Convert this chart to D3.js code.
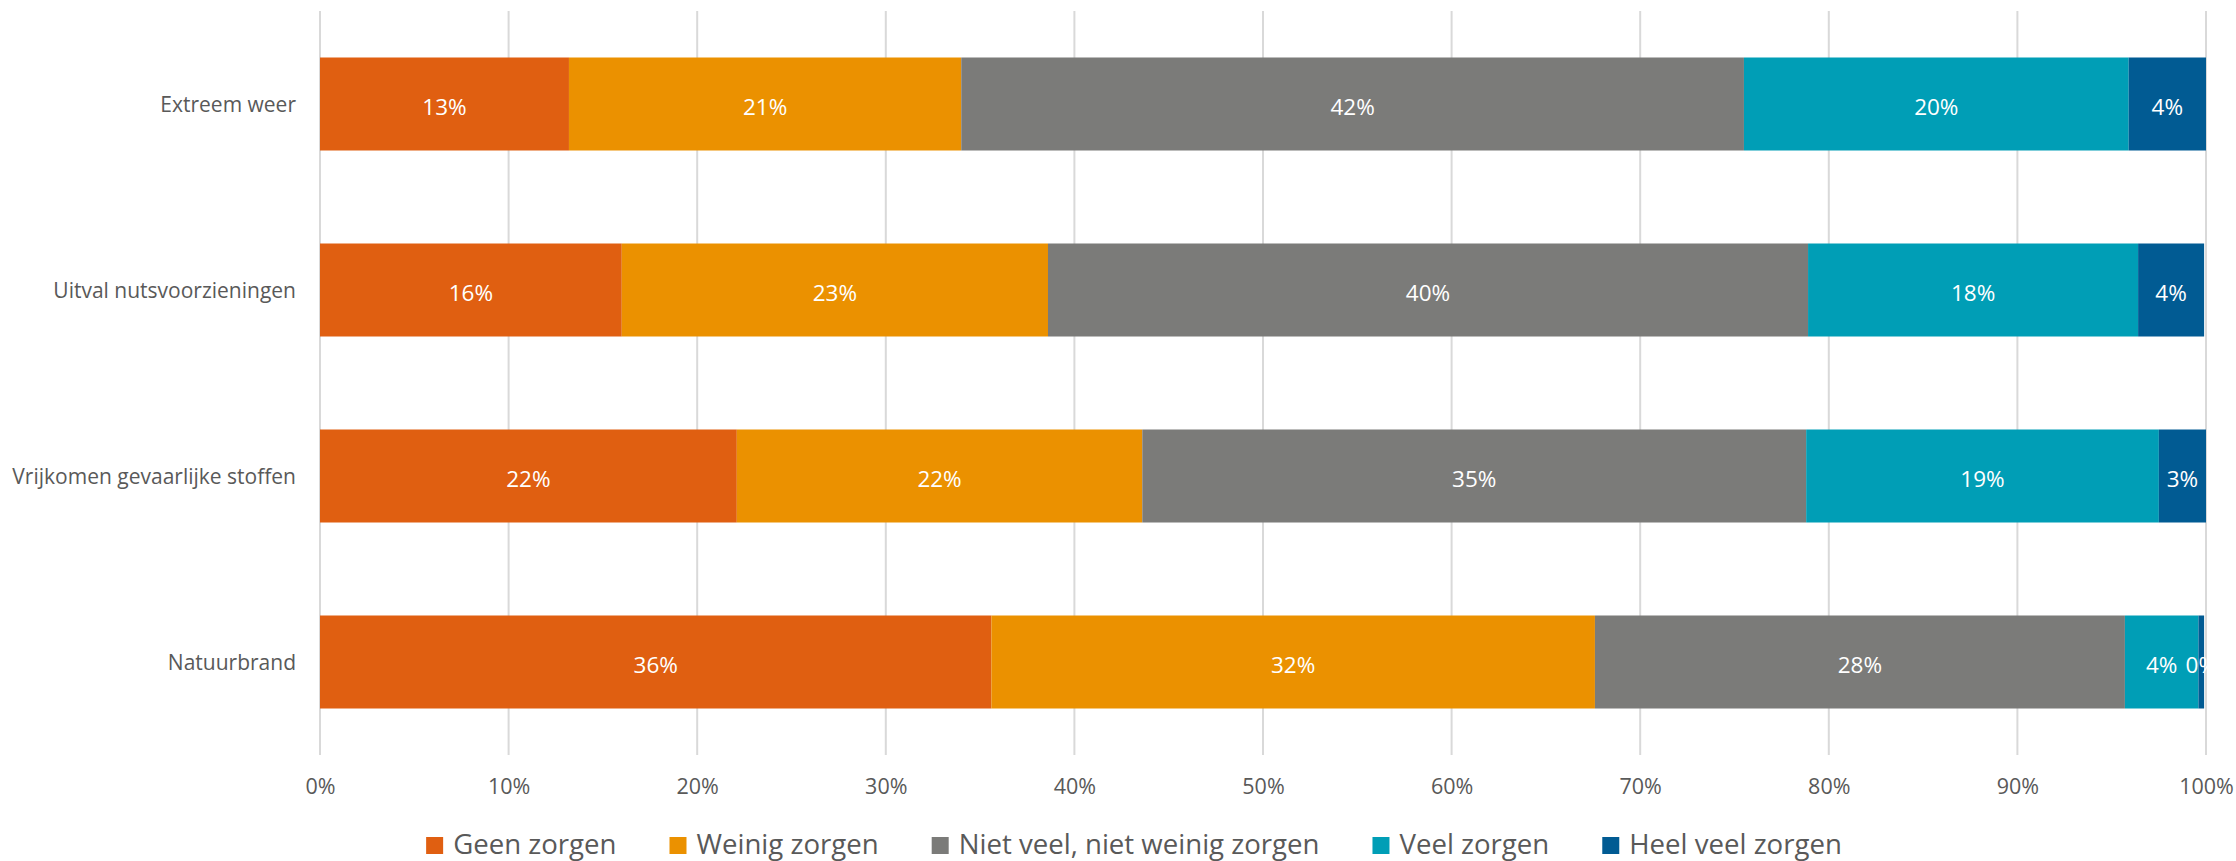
<!DOCTYPE html>
<html>
<head>
<meta charset="utf-8">
<script src="https://cdn.jsdelivr.net/npm/d3@7"></script>
<style>
  html, body { margin: 0; padding: 0; background: #ffffff; }
  svg { display: block; }
  text { font-family: "Open Sans", "Noto Sans", sans-serif; }
</style>
</head>
<body>
<svg id="chart" width="2236" height="861"></svg>
<script>
// ---- data ----
const categories = ["Extreem weer", "Uitval nutsvoorzieningen", "Vrijkomen gevaarlijke stoffen", "Natuurbrand"];
const seriesNames = ["Geen zorgen", "Weinig zorgen", "Niet veel, niet weinig zorgen", "Veel zorgen", "Heel veel zorgen"];
const geenZorgen      = [13.2, 16.0, 22.1, 35.6];
const weinigZorgen    = [20.8, 22.6, 21.5, 32.0];
const nietVeelZorgen  = [41.5, 40.3, 35.2, 28.1];
const veelZorgen      = [20.4, 17.5, 18.7, 3.9];
const heelVeelZorgen  = [4.1, 3.5, 2.5, 0.3];
const xTicks = [0, 10, 20, 30, 40, 50, 60, 70, 80, 90, 100];
const seriesColors = ["#E05F11", "#EB9100", "#7B7B79", "#009EB6", "#015B93"];

const seriesValues = [geenZorgen, weinigZorgen, nietVeelZorgen, veelZorgen, heelVeelZorgen];

// ---- layout ----
const svg = d3.select("#chart");
const plot = { left: 320, right: 2206, top: 11, bottom: 755 };

const x = d3.scaleLinear().domain([0, 100]).range([plot.left, plot.right]);
const y = d3.scaleBand().domain(categories).range([plot.top, plot.bottom])
  .paddingInner(0.5).paddingOuter(0.25);

const textColor = "#595959";

// gridlines
svg.append("g").selectAll("line").data(xTicks).join("line")
  .attr("x1", d => x(d)).attr("x2", d => x(d))
  .attr("y1", plot.top).attr("y2", plot.bottom)
  .attr("stroke", "#D9D9D9").attr("stroke-width", 2);

// x axis labels
const xAxis = d3.axisBottom(x).tickValues(xTicks).tickFormat(d => d + "%").tickSize(0).tickPadding(0);
const gx = svg.append("g").attr("transform", `translate(0,${plot.bottom})`).call(xAxis);
gx.select(".domain").remove();
gx.selectAll("text")
  .attr("y", 39).attr("dy", 0)
  .attr("fill", textColor).style("font-size", "21.5px").style("font-family", "'Open Sans', sans-serif");

// y axis labels
const yAxis = d3.axisLeft(y).tickSize(0).tickPadding(24);
const gy = svg.append("g").attr("transform", `translate(${plot.left},0)`).call(yAxis);
gy.select(".domain").remove();
gy.selectAll("text")
  .attr("dy", "0.36em")
  .attr("fill", textColor).style("font-size", "21px").style("font-family", "'Open Sans', sans-serif");

// stacked data
const rows = categories.map((c, i) => {
  const r = { category: c };
  seriesNames.forEach((s, k) => r[s] = seriesValues[k][i]);
  return r;
});
const stack = d3.stack().keys(seriesNames)(rows);

const layers = svg.append("g").selectAll("g").data(stack).join("g")
  .attr("fill", (d, i) => seriesColors[i]);

layers.selectAll("rect").data(d => d).join("rect")
  .attr("x", d => x(d[0]))
  .attr("width", d => x(d[1]) - x(d[0]))
  .attr("y", d => y(d.data.category))
  .attr("height", y.bandwidth());

// data labels
const labels = svg.append("g").selectAll("g").data(stack).join("g");
labels.selectAll("text").data(d => d.map(v => ({ v, key: d.key }))).join("text")
  .attr("x", d => (x(d.v[0]) + x(d.v[1])) / 2)
  .attr("y", d => y(d.v.data.category) + y.bandwidth() / 2 + 11)
  .attr("text-anchor", "middle")
  .attr("fill", "#ffffff")
  .style("font-size", "22.5px")
  .text(d => Math.round(d.v[1] - d.v[0]) + "%");

// legend
const legend = svg.append("g");
const legendY = 854;
const sq = 17, sqGap = 10, itemGap = 53;
const items = legend.selectAll("g").data(seriesNames).join("g");
items.append("rect")
  .attr("width", sq).attr("height", sq).attr("y", legendY - sq)
  .attr("fill", (d, i) => seriesColors[i]);
items.append("text")
  .attr("x", sq + sqGap).attr("y", legendY)
  .attr("fill", textColor).style("font-size", "27.6px")
  .text(d => d);
let widths = [];
items.each(function() { widths.push(this.querySelector("text").getComputedTextLength()); });
const total = d3.sum(widths, w => w + sq + sqGap) + itemGap * (widths.length - 1);
let cx = 1134 - total / 2;
items.attr("transform", (d, i) => {
  const t = `translate(${cx},0)`;
  cx += sq + sqGap + widths[i] + itemGap;
  return t;
});
</script>
</body>
</html>
